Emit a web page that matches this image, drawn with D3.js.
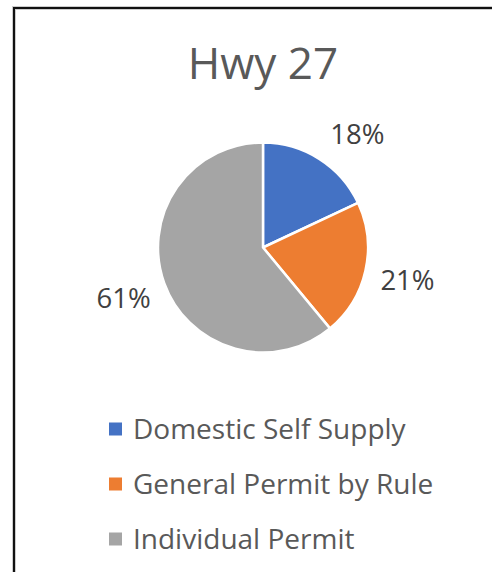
<!DOCTYPE html>
<html>
<head>
<meta charset="utf-8">
<script src="https://cdn.jsdelivr.net/npm/d3@7"></script>
<style>
  body { margin: 0; background: #fff; }
  text { font-family: "Open Sans", sans-serif; }
</style>
</head>
<body>
<div id="chart"></div>
<script>
// chart data
let title = "Hwy 27";
let categories = ["Domestic Self Supply", "General Permit by Rule", "Individual Permit"];
let shares = [0.18, 0.21, 0.61];
let colors = ["#4472C4", "#ED7D31", "#A5A5A5"];

let width = 492, height = 572;

let svg = d3.select("#chart").append("svg")
  .attr("width", width)
  .attr("height", height);

// chart frame (only top and left edges are visible in the crop)
svg.append("path")
  .attr("d", "M14," + height + " V8 H" + width)
  .attr("fill", "none")
  .attr("stroke", "#ccc")
  .attr("stroke-width", 4);
svg.append("path")
  .attr("d", "M14," + height + " V8 H" + width)
  .attr("fill", "none")
  .attr("stroke", "#111")
  .attr("stroke-width", 2);

// title
svg.append("text")
  .attr("x", 263)
  .attr("y", 79)
  .attr("text-anchor", "middle")
  .attr("font-size", 44)
  .attr("fill", "#595959")
  .text(title);

// pie
let cx = 263, cy = 247.5, radius = 105;
let pie = d3.pie().sort(null).value(d => d);
let arc = d3.arc().innerRadius(0).outerRadius(radius);

let g = svg.append("g")
  .attr("transform", "translate(" + cx + "," + cy + ")");

let arcs = pie(shares);

g.selectAll("path.slice")
  .data(arcs)
  .enter().append("path")
  .attr("class", "slice")
  .attr("d", arc)
  .attr("fill", (d, i) => colors[i])
  .attr("stroke", "#fff")
  .attr("stroke-width", 2.5)
  .attr("stroke-linejoin", "round");

// percentage labels outside the pie, kept clear of the title
let labelR = radius * 1.41;
let labelArc = d3.arc().innerRadius(labelR).outerRadius(labelR);
let minY = -114;
function labelPos(d) {
  let [x, y] = labelArc.centroid(d);
  if (y < minY) {
    y = minY;
    x = Math.sign(x) * Math.sqrt(labelR * labelR - y * y);
  }
  return [x, y];
}

g.selectAll("text.pct")
  .data(arcs)
  .enter().append("text")
  .attr("class", "pct")
  .attr("x", d => labelPos(d)[0])
  .attr("y", d => labelPos(d)[1] + 10)
  .attr("text-anchor", "middle")
  .attr("font-size", 27.5)
  .attr("fill", "#404040")
  .text(d => d3.format(".0%")(d.data));

// legend
let legendY = d3.scaleBand()
  .domain(categories)
  .range([402, 567]);

let legend = svg.selectAll("g.legend")
  .data(categories)
  .enter().append("g")
  .attr("class", "legend")
  .attr("transform", d => "translate(109," + (legendY(d) + legendY.bandwidth() / 2) + ")");

legend.append("rect")
  .attr("x", 0)
  .attr("y", -7)
  .attr("width", 13)
  .attr("height", 13)
  .attr("fill", (d, i) => colors[i]);

legend.append("text")
  .attr("x", 24)
  .attr("y", 9.5)
  .attr("font-size", 28)
  .attr("fill", "#595959")
  .text(d => d);
</script>
</body>
</html>
